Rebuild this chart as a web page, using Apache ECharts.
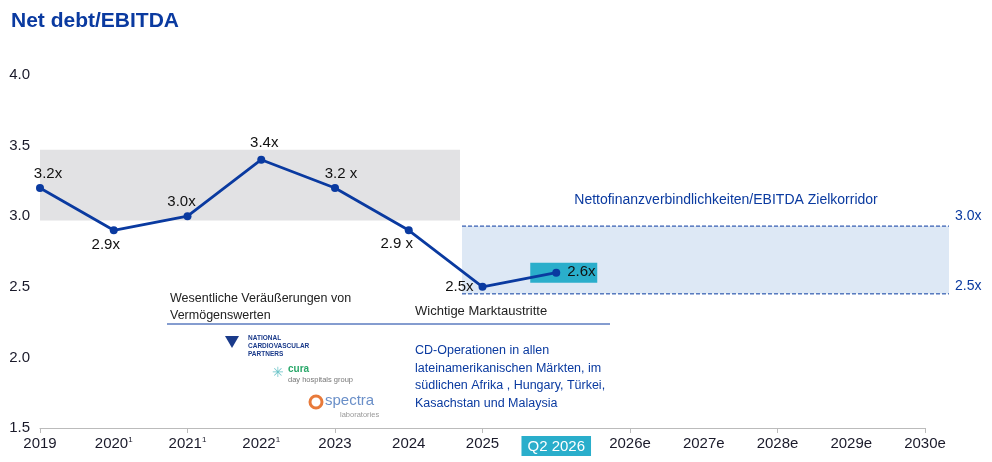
<!DOCTYPE html>
<html><head><meta charset="utf-8">
<script src="https://cdn.jsdelivr.net/npm/echarts@6/dist/echarts.min.js"></script>
<style>html,body{margin:0;padding:0;background:#fff}#c{width:992px;height:462px}</style>
</head><body><div id="c"></div>
<script>
const categories = ['2019','2020¹','2021¹','2022¹','2023','2024','2025','Q2 2026','2026e','2027e','2028e','2029e','2030e'];
const values = [3.2, 2.9, 3.0, 3.4, 3.2, 2.9, 2.5, 2.6];
const pointLabels = ['3.2x','2.9x','3.0x','3.4x','3.2 x','2.9 x','2.5x','2.6x'];
const yTicks = [1.5, 2.0, 2.5, 3.0, 3.5, 4.0];
const historicBand = [3.47, 2.97];
const targetBand = [2.93, 2.45];
const targetLabels = ['3.0x', '2.5x'];

const BLUE = '#0a3aa0';
const FONT = 'Liberation Sans, Arial, sans-serif';
const labelPos = [
  {position:'top', offset:[8,2]},
  {position:'bottom', offset:[-8,-2]},
  {position:'top', offset:[-6,2]},
  {position:'top', offset:[3,0]},
  {position:'top', offset:[6,2]},
  {position:'bottom', offset:[-12,-3]},
  {position:'left', offset:[0,0]},
  {position:'right', offset:[2,-1]}
];
const chart = echarts.init(document.getElementById('c'));
chart.setOption({
  animation:false,
  textStyle:{fontFamily:FONT},
  title:{text:'Net debt/EBITDA', left:6, top:6, textStyle:{color:BLUE, fontSize:21, fontWeight:'bold', fontFamily:FONT}},
  grid:{left:40, right:67, top:75, bottom:34},
  xAxis:{type:'category', data:categories, boundaryGap:false,
    axisLine:{lineStyle:{color:'#bbb'}}, axisTick:{show:true, interval:1, lineStyle:{color:'#bbb'}, length:5},
    axisLabel:{interval:0, margin:8, fontSize:15, color:'#1a1a2a', fontFamily:FONT,
      formatter:function(v){
        if(v==='Q2 2026') return '{q|'+v+'}';
        if(v.indexOf('¹')>0) return v.replace('¹','')+'{s|1}';
        return v;},
      rich:{q:{backgroundColor:'#2aaecb', color:'#fff', fontSize:15, padding:[3,6,2,6], fontFamily:FONT},
            s:{fontSize:8, verticalAlign:'top', padding:[0,0,8,0], fontFamily:FONT, color:'#1a1a2a'}}}},
  yAxis:{type:'value', min:1.5, max:4.0, interval:0.5, splitLine:{show:false}, axisLine:{show:false}, axisTick:{show:false},
    axisLabel:{fontSize:15, color:'#1a1a2a', margin:10, fontFamily:FONT, formatter:v=>yTicks.includes(v)?v.toFixed(1):''}},
  series:[{type:'line', data:values.map((v,i)=>({value:v, label:Object.assign({show:true, formatter:pointLabels[i]}, labelPos[i])})),
    lineStyle:{color:BLUE, width:2.8}, itemStyle:{color:BLUE}, symbol:'circle', symbolSize:8,
    label:{fontSize:15, color:'#111', fontFamily:FONT}, z:5,
    markArea:{silent:true, itemStyle:{color:'#e2e2e4'}, data:[[{xAxis:'2019', yAxis:historicBand[0]},{x:460, yAxis:historicBand[1]}]]}
  }]
});
function px(v){return chart.convertToPixel({yAxisIndex:0}, v);}
const xq = chart.convertToPixel({xAxisIndex:0}, 'Q2 2026');
const yq = px(values[7]);
const y1 = px(targetBand[0]), y2 = px(targetBand[1]);
chart.setOption({graphic:[
  {type:'rect', shape:{x:462, y:y1, width:487, height:y2-y1}, style:{fill:'#dde8f5'}, z:0},
  {type:'line', shape:{x1:462,y1:y1,x2:949,y2:y1}, style:{stroke:BLUE, lineWidth:1, lineDash:[4,2]}, z:1},
  {type:'line', shape:{x1:462,y1:y2,x2:949,y2:y2}, style:{stroke:BLUE, lineWidth:1, lineDash:[4,2]}, z:1},
  {type:'rect', shape:{x:xq-26, y:yq-10, width:67, height:20}, style:{fill:'#2aaecb'}, z:2},
  {type:'text', x:955, y:y1-10, style:{text:targetLabels[0], fill:BLUE, font:'14px '+FONT, textVerticalAlign:'middle'}},
  {type:'text', x:955, y:y2-8, style:{text:targetLabels[1], fill:BLUE, font:'14px '+FONT, textVerticalAlign:'middle'}},
  {type:'text', x:726, y:200, style:{text:'Nettofinanzverbindlichkeiten/EBITDA Zielkorridor', fill:BLUE, font:'14px '+FONT, textAlign:'center', textVerticalAlign:'middle'}},
  {type:'text', x:170, y:290, style:{text:'Wesentliche Veräußerungen von\nVermögenswerten', fill:'#222', font:'12.5px '+FONT, lineHeight:17}},
  {type:'text', x:415, y:305, style:{text:'Wichtige Marktaustritte', fill:'#222', font:'13px '+FONT}},
  {type:'line', shape:{x1:167,y1:324,x2:610,y2:324}, style:{stroke:BLUE, lineWidth:1}},
  {type:'text', x:415, y:342, style:{text:'CD-Operationen in allen\nlateinamerikanischen Märkten, im\nsüdlichen Afrika , Hungary, Türkei,\nKasachstan und Malaysia', fill:BLUE, font:'12.5px '+FONT, lineHeight:17.5}},
  {type:'polygon', shape:{points:[[225,336],[239,336],[232,348]]}, style:{fill:'#1a3a8a'}},
  {type:'text', x:248, y:334, style:{text:'NATIONAL\nCARDIOVASCULAR\nPARTNERS', fill:'#1a3a8a', font:'bold 6.5px '+FONT, lineHeight:8}},
  {type:'text', x:272, y:366, style:{text:'✳', fill:'#6cc4c8', font:'14px '+FONT}},
  {type:'text', x:288, y:364, style:{text:'cura', fill:'#2aa86a', font:'bold 10px '+FONT}},
  {type:'text', x:288, y:376, style:{text:'day hospitals group', fill:'#777', font:'7.5px '+FONT}},
  {type:'circle', shape:{cx:316, cy:402, r:6}, style:{fill:'none', stroke:'#e87a3a', lineWidth:3}},
  {type:'text', x:325, y:393, style:{text:'spectra', fill:'#6a8fc8', font:'15px '+FONT}},
  {type:'text', x:340, y:411, style:{text:'laboratories', fill:'#999', font:'7.5px '+FONT}}
]});
</script></body></html>
